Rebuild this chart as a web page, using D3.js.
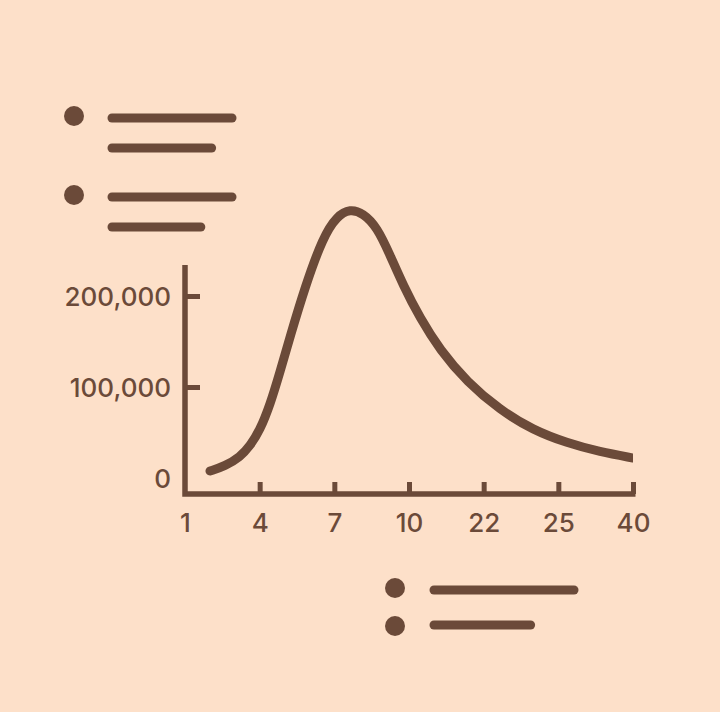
<!DOCTYPE html>
<html>
<head>
<meta charset="utf-8">
<script src="https://cdn.jsdelivr.net/npm/d3@7"></script>
<style>
  html, body { margin: 0; padding: 0; background: #fde0c9; }
  svg { display: block; }
</style>
</head>
<body>
<script>
// ---- data ----
const categories = ["1", "4", "7", "10", "22", "25", "40"];
const yTicks = [0, 100000, 200000];
const yTickLabels = ["0", "100,000", "200,000"];
// curve samples: position along the category index, value
const curvePos = [0.335, 0.536, 0.737, 0.871, 1.004, 1.138, 1.272, 1.406, 1.607, 1.848, 2.036, 2.21, 2.384, 2.571, 2.746, 2.92, 3.147, 3.415, 3.777, 4.219, 4.661, 5.116, 5.558, 6.0];
const curveVal = [7700, 13200, 23100, 35200, 52700, 80200, 116500, 154900, 209900, 264800, 287900, 295600, 291200, 275800, 245100, 212100, 175800, 140700, 105500, 74700, 52700, 38500, 28600, 22000];
// legend placeholders (decorative rows: relative bar lengths)
const legendTopBars = [[1.0, 0.83], [1.0, 0.74]];
const legendBottomBars = [1.0, 0.69];

// ---- style / layout ----
const W = 720, H = 712;
const bg = "#fde0c9", ink = "#6b4a39";
const font = "Inter, 'Noto Sans', sans-serif";

const svg = d3.select("body").append("svg").attr("width", W).attr("height", H);
svg.append("rect").attr("width", W).attr("height", H).attr("fill", bg);

const x0 = 185, x1 = 633, yZero = 478, yAxisBottom = 494;
const xIdx = d3.scaleLinear().domain([0, categories.length - 1]).range([x0, x1]);
const xCat = d3.scalePoint().domain(categories).range([x0, x1]);
const y = d3.scaleLinear().domain([0, 200000]).range([yZero, 296]);

// y axis
const gy = svg.append("g").attr("transform", `translate(${x0},0)`)
  .call(d3.axisLeft(y).tickValues(yTicks).tickFormat((d, i) => yTickLabels[i]).tickSize(-15).tickPadding(14));
gy.select(".domain").remove();
gy.selectAll(".tick line").attr("stroke", ink).attr("stroke-width", 5)
  .attr("display", d => d === 0 ? "none" : null);
gy.selectAll(".tick text").attr("fill", ink).attr("font-family", font)
  .attr("font-size", 26).attr("font-weight", 500).attr("dy", "0.36em");

// x axis
const gx = svg.append("g").attr("transform", `translate(0,${yAxisBottom})`)
  .call(d3.axisBottom(xCat).tickSize(-12).tickPadding(20));
gx.select(".domain").remove();
gx.selectAll(".tick line").attr("stroke", ink).attr("stroke-width", 5)
  .attr("display", (d, i) => i === 0 ? "none" : null);
gx.selectAll(".tick text").attr("fill", ink).attr("font-family", font)
  .attr("font-size", 26).attr("font-weight", 500);

// axis lines (L shape)
svg.append("path")
  .attr("d", `M${x0},265 L${x0},${yAxisBottom} L${x1 + 2.5},${yAxisBottom}`)
  .attr("fill", "none").attr("stroke", ink).attr("stroke-width", 5.5)
  .attr("stroke-linejoin", "miter");

// curve
svg.append("clipPath").attr("id", "clipEnd").append("rect")
  .attr("x", 0).attr("y", 0).attr("width", x1).attr("height", H);
const pts = curvePos.map((p, i) => [xIdx(p), y(curveVal[i])]);
svg.append("path")
  .attr("clip-path", "url(#clipEnd)")
  .attr("d", d3.line().curve(d3.curveBasis)(pts))
  .attr("fill", "none").attr("stroke", ink).attr("stroke-width", 9)
  .attr("stroke-linecap", "round");

// legend top-left
const topRows = [[116, 118, 148], [195, 197, 227]];
const barX = 112, barFull = 120;
legendTopBars.forEach((bars, g) => {
  const [cy, l1, l2] = topRows[g];
  svg.append("circle").attr("cx", 74).attr("cy", cy).attr("r", 10).attr("fill", ink);
  [l1, l2].forEach((ly, k) => {
    svg.append("line").attr("x1", barX).attr("x2", barX + barFull * bars[k])
      .attr("y1", ly).attr("y2", ly)
      .attr("stroke", ink).attr("stroke-width", 9).attr("stroke-linecap", "round");
  });
});

// legend bottom
const botRows = [[588, 590], [626, 625]];
const bBarX = 434, bBarFull = 140;
legendBottomBars.forEach((f, k) => {
  const [cy, ly] = botRows[k];
  svg.append("circle").attr("cx", 395).attr("cy", cy).attr("r", 10).attr("fill", ink);
  svg.append("line").attr("x1", bBarX).attr("x2", bBarX + bBarFull * f)
    .attr("y1", ly).attr("y2", ly)
    .attr("stroke", ink).attr("stroke-width", 9).attr("stroke-linecap", "round");
});
</script>
</body>
</html>
